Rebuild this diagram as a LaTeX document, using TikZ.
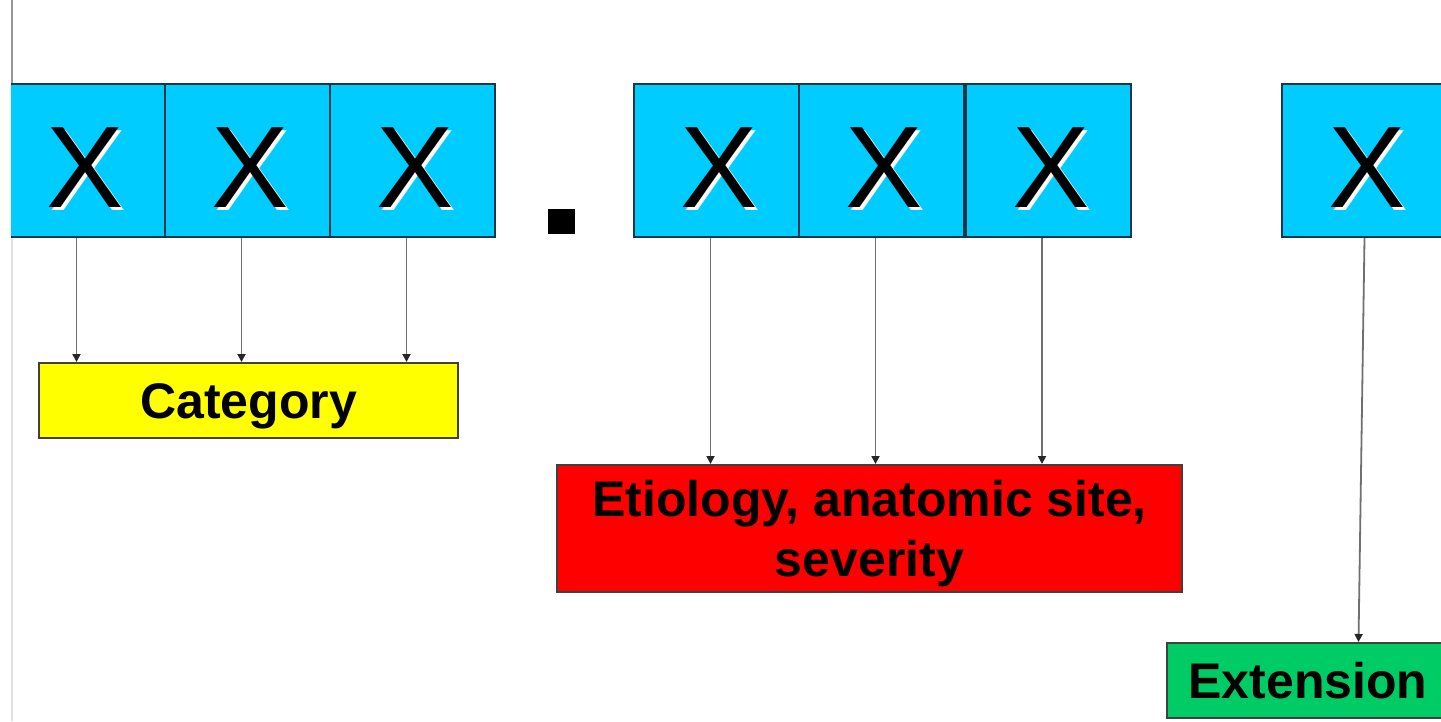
\documentclass[tikz,border=0pt]{standalone}
\usepackage{fontspec}
\setmainfont{Liberation Sans}
\usetikzlibrary{arrows.meta}
\definecolor{cellblue}{HTML}{00CCFF}
\definecolor{cellline}{HTML}{103848}
\definecolor{boxyellow}{HTML}{FFFF00}
\definecolor{boxred}{HTML}{FF0000}
\definecolor{boxgreen}{HTML}{00CC66}
\definecolor{conn}{HTML}{707070}
\newcommand{\shadowX}{\rlap{\hspace{3pt}\raisebox{-3pt}{\textcolor{white}{X}}}X}
\tikzset{
  cellbox/.style={draw=cellline, line width=2pt, fill=cellblue, minimum width=165pt, minimum height=153pt, inner sep=0pt},
  xletter/.style={font=\fontsize{116}{116}\selectfont, text height=83pt, text depth=0pt, inner sep=0pt},
  labelbox/.style={draw=black!75, line width=2pt, inner sep=0pt, font=\fontsize{50}{60}\selectfont\bfseries, align=center},
  conn/.style={draw=conn, line width=1.8pt, -{Triangle[length=8pt,width=8pt,color=black!85]}}
}
\begin{document}
\begin{tikzpicture}[x=1pt,y=-1pt]
\useasboundingbox (0,0) rectangle (1441,721);
\clip (0,0) rectangle (1441,721);
\fill[white] (0,0) rectangle (1441,721);
% slide edge
\draw[draw=black!40, line width=2pt] (12,0) -- (12,84);
\draw[draw=black!12, line width=1.5pt] (12,237) -- (12,721);
% blue cells
\begin{scope}
\clip (11,0) rectangle (1441,721);
\foreach \n/\x in {1/82.5,2/247.5,3/412.5,4/716.5,5/881.5,6/1048,7/1364.5}{
  \node[cellbox] (c\n) at (\x,160.5) {};
  \node[xletter] (x\n) at (\x+3,166) {\shadowX};
  \coordinate (a\n) at ([xshift=-6pt]c\n.south);
}
\end{scope}
% the dot
\node[fill=black, inner sep=0pt, minimum width=27pt, minimum height=25pt] (dot) at (561.5,221.5) {};
% label boxes
\node[labelbox, fill=boxyellow, minimum width=419pt, minimum height=75pt, text height=36pt, text depth=0pt] (cat) at (248.5,400.5) {Category};
\node[labelbox, fill=boxred, minimum width=625pt, minimum height=127pt, text depth=0pt] (eti) at (869.5,528.5) {Etiology, anatomic site,\\severity};
\node[labelbox, fill=boxgreen, minimum width=282pt, minimum height=75pt, text height=36pt, text depth=0pt] (ext) at (1308,680.5) {Extension};
% connectors
\foreach \n in {1,2,3}{ \draw[conn] (a\n) -- (a\n |- cat.north); }
\foreach \n in {4,5,6}{ \draw[conn] (a\n) -- (a\n |- eti.north); }
\draw[conn] ([xshift=6pt]a7) -- ([xshift=0pt]a7 |- ext.north);
\end{tikzpicture}
\end{document}
